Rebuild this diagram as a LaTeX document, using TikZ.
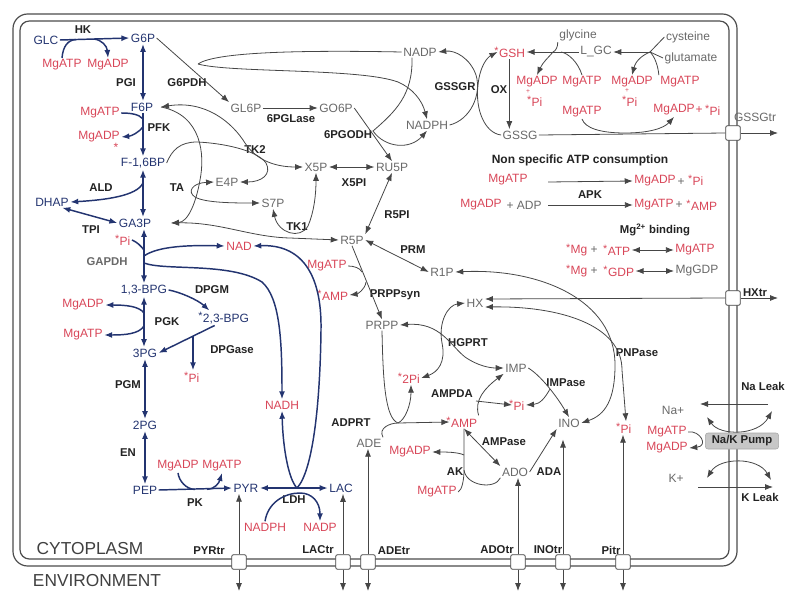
\documentclass[tikz,border=0pt]{standalone}
\usepackage{fontspec}
\setmainfont{Liberation Sans}
\usetikzlibrary{arrows.meta,calc}
\definecolor{navy}{RGB}{35,52,112}
\definecolor{cred}{RGB}{216,70,88}
\definecolor{tgray}{RGB}{105,105,105}
\definecolor{ink}{RGB}{35,35,35}
\definecolor{lgray}{RGB}{70,70,70}
\newcommand\fs{\fontsize{9}{10}\selectfont}
\newcommand\fsb{\fontsize{8.5}{10}\selectfont\bfseries}
\newcommand\stx{\makebox[0pt][r]{\raisebox{0.45ex}{\fontsize{8}{8}\selectfont *}\hspace{0.3pt}}}
\begin{document}
\begin{tikzpicture}[x=0.75pt,y=-0.75pt,
 metb/.style={font=\fs,text=navy,inner sep=1pt},
 metr/.style={font=\fs,text=cred,inner sep=1pt},
 metg/.style={font=\fs,text=tgray,inner sep=1pt},
 enz/.style={font=\fsb,text=ink,inner sep=1pt},
 bline/.style={draw=navy,line width=1.1pt},
 gline/.style={draw=lgray,line width=0.6pt},
 tipe/.style={-{Latex[length=6pt,width=4.5pt]}},
 tipb/.style={{Latex[length=6pt,width=4.5pt]}-},
 tips/.style={{Latex[length=6pt,width=4.5pt]}-{Latex[length=6pt,width=4.5pt]}},
 tbox/.style={draw=black!75,fill=white,rounded corners=1.5pt,minimum width=11pt,minimum height=11pt,inner sep=0pt,line width=0.6pt},
 mline/.style={draw=black!70,line width=0.9pt},
 trl/.style={font=\fsb,text=ink,inner sep=1pt},
 big/.style={font=\fontsize{13}{14}\selectfont,text=black!75,inner sep=1pt},
]
\useasboundingbox (0,0) rectangle (791,592);
% membrane
\draw[mline,rounded corners=11pt] (13,14) rectangle (737,566);
\draw[mline,rounded corners=7pt] (20,21) rectangle (729,559);

% ---------- glycolysis nodes
\node[metb] (GLC) at (46,40) {GLC};
\node[metb] (G6P) at (143,38) {G6P};
\node[enz] (HK) at (83,30) {HK};
\node[metr] (atp1) at (62,65) {MgATP};
\node[metr] (adp1) at (108,65) {MgADP};
\node[enz] (PGI) at (126,83) {PGI};
\node[enz] (G6PDH) at (187,83) {G6PDH};
\node[metb] (F6P) at (142,107) {F6P};
\node[metr] (atp2) at (100,113) {MgATP};
\node[enz] (PFK) at (159,128) {PFK};
\node[metr] (adp2) at (99,137) {MgADP};
\node[metr,inner sep=0pt] (st1) at (116,147) {*};
\node[metb] (F16BP) at (143,163) {F-1,6BP};
\node[enz] (ALD) at (101,188) {ALD};
\node[enz] (TA) at (177,188) {TA};
\node[metb] (DHAP) at (52,202) {DHAP};
\node[metb] (GA3P) at (135,223) {GA3P};
\node[enz] (TPI) at (91,230) {TPI};
\node[metr] (pi1) at (125,240) {\stx Pi};
\node[enz,text=tgray] (GAPDH) at (107,262) {GAPDH};
\node[metb] (BPG13) at (144,290) {1,3-BPG};
\node[metr] (adp3) at (83,305) {MgADP};
\node[enz] (PGK) at (167,322) {PGK};
\node[metr] (atp3) at (83,335) {MgATP};
\node[metb] (PG3) at (145,353) {3PG};
\node[enz] (DPGM) at (212,290) {DPGM};
\node[metb] (BPG23) at (226,318) {\stx 2,3-BPG};
\node[enz] (DPGase) at (232,350) {DPGase};
\node[metr] (pi2) at (194,377) {\stx Pi};
\node[enz] (PGM) at (128,385) {PGM};
\node[metb] (PG2) at (145,425) {2PG};
\node[enz] (EN) at (128,453) {EN};
\node[metb] (PEP) at (145,490) {PEP};
\node[metr] (adp4) at (178,466) {MgADP};
\node[metr] (atp4) at (222,466) {MgATP};
\node[enz] (PK) at (195,503) {PK};
\node[metb] (PYR) at (246,488) {PYR};
\node[enz] (LDH) at (294,500) {LDH};
\node[metb] (LAC) at (341,488) {LAC};
\node[metr] (nadph2) at (265,527) {NADPH};
\node[metr] (nadp2) at (320,527) {NADP};
\node[metr] (NADH) at (282,405) {NADH};
\node[metr] (NAD) at (239,246) {NAD};

% ---------- PPP and purine nodes
\node[metg] (GL6P) at (246,108) {GL6P};
\node[metg] (GO6P) at (336,108) {GO6P};
\node[enz] (PGL) at (291,119) {6PGLase};
\node[enz] (PGODH) at (348,135) {6PGODH};
\node[enz] (TK2) at (255,150) {TK2};
\node[metg] (X5P) at (316,167) {X5P};
\node[metg] (RU5P) at (392,167) {RU5P};
\node[enz] (X5PI) at (354,183) {X5PI};
\node[metg] (E4P) at (227,182) {E4P};
\node[metg] (S7P) at (273,203) {S7P};
\node[enz] (TK1) at (297,227) {TK1};
\node[metg] (R5P) at (352,240) {R5P};
\node[enz] (R5PI) at (397,215) {R5PI};
\node[metr] (atp5) at (327,266) {MgATP};
\node[metr] (amp1) at (335,295) {\stx AMP};
\node[enz] (PRPPsyn) at (395,295) {PRPPsyn};
\node[metg] (PRPP) at (382,325) {PRPP};
\node[enz] (PRM) at (413,250) {PRM};
\node[metg] (R1P) at (442,272) {R1P};
\node[metg] (HX) at (475,303) {HX};
\node[enz] (HGPRT) at (468,343) {HGPRT};
\node[metg] (IMP) at (516,368) {IMP};
\node[enz] (IMPase) at (566,383) {IMPase};
\node[metr] (pi3) at (411,378) {\stx 2Pi};
\node[enz] (AMPDA) at (452,394) {AMPDA};
\node[metr] (pi4) at (519,405) {\stx Pi};
\node[metg] (INO) at (569,423) {INO};
\node[metr] (AMP) at (464,422) {\stx AMP};
\node[enz] (AMPase) at (504,442) {AMPase};
\node[metr] (adp5) at (410,452) {MgADP};
\node[enz] (AK) at (455,472) {AK};
\node[metg] (ADO) at (515,472) {ADO};
\node[enz] (ADA) at (549,472) {ADA};
\node[metr] (atp6) at (437,492) {MgATP};
\node[metg] (ADE) at (369,443) {ADE};
\node[enz] (ADPRT) at (351,423) {ADPRT};
\node[metr] (pi5) at (626,428) {\stx Pi};
\node[enz] (PNPase) at (637,353) {PNPase};

% ---------- glutathione
\node[metr] (GSH) at (512,52) {\stx GSH};
\node[enz] (OX) at (499,90) {OX};
\node[metg] (GSSG) at (520,135) {GSSG};
\node[metg] (NADP) at (420,52) {NADP};
\node[metg] (NADPH) at (427,125) {NADPH};
\node[enz] (GSSGR) at (455,87) {GSSGR};
\node[metr] (adp6) at (537,82) {MgADP};
\node[metr] (pl1) at (528,92) {\tiny +};
\node[metr] (pi6) at (537,101) {\stx Pi};
\node[metr] (atp7) at (582,82) {MgATP};
\node[metr] (adp7) at (632,82) {MgADP};
\node[metr] (pl2) at (627,91) {\tiny +};
\node[metr] (pi7) at (632,101) {\stx Pi};
\node[metr] (atp8) at (680,82) {MgATP};
\node[metr] (atp9) at (582,112) {MgATP};
\node[metr] (adp8) at (674,110) {MgADP};
\node[metr] (pl5) at (699,110) {+};
\node[metr] (pi9) at (715,110) {\stx Pi};
\node[metg] (gly) at (578,35) {glycine};
\node[metg] (LGC) at (596,52) {L\_GC};
\node[metg] (cys) at (688,37) {cysteine};
\node[metg] (glu) at (691,58) {glutamate};

% ---------- ATP consumption & Mg binding
\node[font=\fontsize{9}{10}\selectfont\bfseries,text=ink] (nsa) at (580,160) {Non specific ATP consumption};
\node[metr] (atp10) at (508,180) {MgATP};
\node[metr] (adp9) at (655,181) {MgADP};
\node[metg] (pl4) at (681,182) {+};
\node[metr] (pi8) at (698,180) {\stx Pi};
\node[metr] (adp10) at (481,205) {MgADP};
\node[metg] (ADP) at (524,205) {+ ADP};
\node[enz] (APK) at (590,195) {APK};
\node[metr] (atp11) at (654,205) {MgATP};
\node[metg] (pl3) at (679,205) {+};
\node[metr] (amp2) at (704,205) {\stx AMP};
\node[enz] (mgb) at (655,230) {Mg\textsuperscript{2+} binding};
\node[metr] (mg1) at (579,250) {\stx Mg};
\node[metg] (pl6) at (594,250) {+};
\node[metr] (atpm) at (619,250) {\stx ATP};
\node[metr] (mgatp) at (695,250) {MgATP};
\node[metr] (mg2) at (579,271) {\stx Mg};
\node[metg] (pl7) at (594,271) {+};
\node[metr] (gdp) at (621,271) {\stx GDP};
\node[metg] (mggdp) at (697,271) {MgGDP};

% ---------- Na/K
\node[metg] (Na) at (673,410) {Na+};
\node[enz] (NaLeak) at (763,386) {Na Leak};
\node[metr] (atp12) at (667,432) {MgATP};
\node[metr] (adp11) at (667,448) {MgADP};
\node[metg] (K) at (676,478) {K+};
\node[enz] (KLeak) at (760,497) {K Leak};

% ---------- transporters
\node[tbox] (tPYR) at (239,562) {};
\node[tbox] (tLAC) at (343,562) {};
\node[tbox] (tADE) at (368,562) {};
\node[tbox] (tADO) at (518,562) {};
\node[tbox] (tINO) at (563,562) {};
\node[tbox] (tPi) at (623,562) {};
\node[tbox] (tGSSG) at (733,133) {};
\node[tbox] (tHX) at (733,298) {};
\node[trl] (lPYR) at (209,551) {PYRtr};
\node[trl] (lLAC) at (318,550) {LACtr};
\node[trl] (lADE) at (394,551) {ADEtr};
\node[trl] (lADO) at (497,550) {ADOtr};
\node[trl] (lINO) at (548,550) {INOtr};
\node[trl] (lPi) at (611,550) {Pitr};
\node[trl] (lHX) at (755,293) {HXtr};
\node[metg] (lGSSG) at (755,117) {GSSGtr};
\node[big] (cyto) at (90,549) {CYTOPLASM};
\node[big] (env) at (97,581) {ENVIRONMENT};

\coordinate (outb) at (0,591);
\coordinate (outr) at (778,0);

% ================= connectors: glycolysis
\coordinate (hk1) at (76,39.5);
\coordinate (hk2) at (94,39);
\draw[bline,tipe] (GLC.east) -- (G6P.west);
\draw[bline] (atp1.north) .. controls (63,46) and (68,40) .. (hk1);
\draw[bline,tipe] (hk2) .. controls (102,40) and (107,46) .. (adp1.north);
\draw[bline,tips] (G6P.south) -- (G6P.south |- F6P.north);
\coordinate (pf1) at (143,119);
\coordinate (pf2) at (143,127);
\draw[bline,tipe] (G6P.south |- F6P.south) -- (G6P.south |- F16BP.north);
\draw[bline] (atp2.east) .. controls (130,113) and (139,114) .. (pf1);
\draw[bline,tipe] (pf2) .. controls (139,132) and (132,136) .. (adp2.east);
\draw[bline,tips] (G6P.south |- F16BP.south) -- (G6P.south |- GA3P.north);
\coordinate (al1) at (143,183);
\draw[bline,tipe] (al1) .. controls (137,196) and (105,200) .. (DHAP.east);
\draw[bline,tips] ([xshift=-6pt]DHAP.south east) -- (GA3P.west);
\draw[bline,tips] (BPG13.north |- GA3P.south) -- (BPG13.north);
\coordinate (gp1) at (144,250);
\coordinate (gp2) at (144,256);
\coordinate (gp3) at (144,263);
\draw[bline] (pi1.east) .. controls (137,242) and (141,246) .. (gp1);
\draw[bline,tipe] (gp2) .. controls (158,246) and (190,245) .. (NAD.west);
\draw[bline,tipe] (gp3) .. controls (165,271) and (230,262) .. (262,282) .. controls (280,298) and (282,340) .. (NADH.north);
\draw[bline,tips] (BPG13.south) -- (BPG13.south |- PG3.north);
\coordinate (pg1) at (144,313);
\coordinate (pg2) at (144,326);
\draw[bline,tipe] (pg1) .. controls (139,306) and (125,305) .. (adp3.east);
\draw[bline,tipe] (pg2) .. controls (139,334) and (125,335) .. (atp3.east);
\draw[bline,tipe] (BPG13.east) .. controls (180,292) and (198,300) .. ([xshift=6pt]BPG23.north west);
\coordinate (dg1) at (193,336);
\draw[bline,tipe] ([xshift=10pt]BPG23.south west) -- (PG3.east);
\draw[bline,tipe] (dg1) -- (dg1 |- pi2.north);
\draw[bline,tips] (PG3.south) -- (PG3.south |- PG2.north);
\draw[bline,tips] (PG2.south) -- (PG2.south |- PEP.north);
\coordinate (pk1) at (195,489.5);
\coordinate (pk2) at (207,489.3);
\draw[bline,tipe] (PEP.east) -- (PYR.west);
\draw[bline] (adp4.south) .. controls (179,481) and (186,489) .. (pk1);
\draw[bline,tipe] (pk2) .. controls (215,489) and (219,483) .. (atp4.south);
\coordinate (ld) at (297,488);
\draw[bline,tips] (PYR.east) -- (LAC.west);
\draw[bline,tipb] (NADH.south) .. controls (283,450) and (289,480) .. (ld);
\draw[bline,tipb] (NAD.east) .. controls (300,244) and (322,272) .. (321,330) .. controls (320,410) and (312,472) .. (ld);
\draw[bline,tipe] (nadph2.north) .. controls (268,502) and (285,493) .. (300,493) .. controls (312,493) and (320,502) .. (nadp2.north);

% ================= PPP
\coordinate (j1) at (198,64);
\draw[gline,tipe] (G6P.east) -- (GL6P.north west);
\draw[gline] (NADP.west) .. controls (300,50) and (215,52) .. (j1);
\draw[gline,tipe] (j1) .. controls (230,73) and (360,68) .. (398,82) .. controls (412,88) and (422,100) .. (NADPH.north);
\draw[gline,tipe] (GL6P.east) -- (GO6P.west);
\draw[gline,tipe] (GO6P.east) -- (RU5P.north);
\draw[gline,tipe] ([xshift=-6pt]NADP.south) .. controls (413,95) and (395,112) .. (373,131) .. controls (385,148) and (410,150) .. (NADPH.south);
\draw[gline,tips] (X5P.east) -- (RU5P.west);
\draw[gline,tips] (RU5P.south) -- (R5P.north east);
\coordinate (f6pR) at (161,107);
\draw[gline,tips] (f6pR) .. controls (205,100) and (232,122) .. (245,143) .. controls (258,163) and (280,167) .. (X5P.west);
\draw[gline,tipe] (F16BP.east) .. controls (172,150) and (180,142) .. (197,142) .. controls (222,143) and (257,150) .. (266,163) .. controls (272,174) and (262,182) .. (E4P.east);
\coordinate (ga3pR) at (171,223);
\draw[gline,tipe] (f6pR) .. controls (202,115) and (205,155) .. (200,180) .. controls (196,203) and (188,222) .. (ga3pR);
\draw[gline,tips] (E4P.west) .. controls (192,183) and (187,192) .. (195,197) .. controls (205,203) and (235,203) .. (S7P.west);
\draw[gline,tips] (ga3pR) .. controls (220,222) and (250,237) .. (290,238) -- (R5P.west);
\draw[gline,tips] (S7P.south) .. controls (278,233) and (300,240) .. (308,226) .. controls (314,212) and (316,195) .. (X5P.south);
\draw[gline,tips] (R5P.east) -- (R1P.west);
\coordinate (ps1) at (362,272);
\coordinate (ps2) at (366,282);
\draw[gline,tipe] (R5P.south) -- (PRPP.north);
\draw[gline] (atp5.east) .. controls (354,266) and (360,268) .. (ps1);
\draw[gline,tipe] (ps2) .. controls (365,290) and (357,294) .. (amp1.east);

% ================= purines
\draw[gline,tips] (PRPP.east) .. controls (440,322) and (450,345) .. (465,357) .. controls (478,366) and (490,368) .. (IMP.west);
\draw[gline,tips] (HX.west) .. controls (448,305) and (438,322) .. (442,343) .. controls (446,362) and (438,372) .. (pi3.east);
\coordinate (ad1) at (398,423);
\draw[gline,tipe] (ADE.north east) .. controls (378,428) and (390,423) .. (ad1) -- (AMP.west);
\draw[gline] (PRPP.south) .. controls (383,380) and (385,418) .. (ad1);
\draw[gline,tipe] (ad1) .. controls (405,420) and (411,405) .. (pi3.south);
\coordinate (am1) at (476,401);
\draw[gline,tipe] (AMP.north east) .. controls (474,400) and (485,388) .. (IMP.south west);
\draw[gline,tipe] (am1) -- (pi4.west);
\coordinate (im1) at (550,389);
\draw[gline,tipe] (IMP.east) .. controls (540,375) and (556,395) .. (INO.north);
\draw[gline,tipe] (im1) .. controls (545,398) and (540,404) .. (pi4.east);
\draw[gline,tips] (AMP.south) -- (ADO.north west);
\coordinate (ak1) at (464,455);
\coordinate (ak2) at (464,470);
\draw[gline] (AMP.south) -- (ak2) .. controls (466,486) and (495,490) .. (ADO.south west);
\draw[gline,tipe] (ak1) .. controls (458,452) and (445,452) .. (adp5.east);
\draw[gline] (atp6.east) .. controls (462,490) and (464,480) .. (ak2);
\draw[gline,tipe] (ADO.east) -- (INO.south west);
\draw[gline,tips] (R1P.east) .. controls (540,268) and (615,300) .. (615,365) .. controls (615,400) and (605,415) .. (INO.east);
\draw[gline,tips] ([yshift=-3pt]HX.east) .. controls (560,306) and (622,325) .. (622,370) -- (pi5.north);

% ================= glutathione
\draw[gline,tipe] (NADPH.east) .. controls (470,120) and (482,95) .. (476,75) .. controls (470,58) and (455,50) .. (NADP.east);
\draw[gline,tipe] (GSSG.west) .. controls (485,133) and (475,110) .. (478,85) .. controls (480,65) and (488,57) .. (GSH.west);
\draw[gline,tipe] ([xshift=-2pt]GSH.south) -- ([xshift=-2pt]GSH.south |- GSSG.north);
\coordinate (j2) at (553,52);
\coordinate (j2b) at (561,52);
\draw[gline,tipe] (LGC.west) -- (GSH.east);
\draw[gline] (gly.south west) .. controls (558,46) and (556,51) .. (j2);
\draw[gline,tipe] (j2) .. controls (548,58) and (543,62) .. (adp6.north);
\draw[gline] (atp7.north) .. controls (578,62) and (568,53) .. (j2b);
\coordinate (j3) at (650,52);
\draw[gline] (cys.west) -- (j3);
\draw[gline] (glu.west) -- (j3);
\draw[gline,tipe] (j3) -- (LGC.east);
\draw[gline,tipe] (j3) .. controls (643,55) and (636,60) .. (adp7.north);
\draw[gline] (atp8.north west) .. controls (658,66) and (655,57) .. (j3);
\draw[gline] (GSSG.east) -- (tGSSG.west);
\draw[gline,tipe] (atp9.south) .. controls (585,128) and (600,133) .. (625,133) .. controls (650,133) and (664,128) .. (adp8.south);
\draw[gline,tipe] (tGSSG.east) -- (tGSSG.east -| outr);

% ================= ATP / Mg
\coordinate (ns1) at (548,182);
\draw[gline,tipe] (ns1) -- (adp9.west);
\draw[gline,tipe] ([xshift=4pt]ADP.east) -- (atp11.west);
\draw[gline,tips] (atpm.east) -- (mgatp.west);
\draw[gline,tips] (gdp.east) -- (mggdp.west);

% ================= transport
\draw[gline,tipe] (tHX.west) -- ([yshift=3pt]HX.east);
\draw[gline,tipe] (tHX.east) -- (tHX.east -| outr);
\draw[gline,tipe] (tPYR.north) -- (tPYR.north |- PYR.south);
\draw[gline,tipe] (tLAC.north) -- (tLAC.north |- LAC.south);
\draw[gline,tipe] (tADE.north) -- (tADE.north |- ADE.south);
\draw[gline,tipe] (tADO.north) -- (tADO.north |- ADO.south);
\draw[gline,tipe] (tINO.north) -- ([yshift=-8pt]tINO.north |- INO.south);
\draw[gline,tipe] (tPi.north) -- (tPi.north |- pi5.south);
\foreach \t in {tPYR,tLAC,tADE,tADO,tINO,tPi}{
  \draw[gline,tipe] (\t.south) -- (\t.south |- outb);
}

% ================= Na/K pump
\coordinate (nl1) at (768,404);
\coordinate (nl2) at (700,404);
\coordinate (ua1) at (707,417);
\coordinate (ua2) at (772,411);
\coordinate (la1) at (707,478);
\coordinate (la2) at (771,480);
\coordinate (kl1) at (698,487);
\coordinate (kl2) at (773,487);
\draw[gline,tipe] (nl1) -- (nl2);
\draw[gline,tips] (ua1) .. controls (720,436) and (758,436) .. (ua2);
\draw[gline,tips] (la1) .. controls (720,457) and (758,457) .. (la2);
\draw[gline,tipe] (kl1) -- (kl2);
\draw[gline,tipe] (atp12.east) .. controls (700,430) and (709,446) .. (adp11.east);
\node[draw=black!35,fill=black!22,rounded corners=2pt,font=\fsb,text=ink,minimum width=55pt,minimum height=12pt,inner sep=1pt] (pump) at (742,441) {Na/K Pump};
\end{tikzpicture}
\end{document}
